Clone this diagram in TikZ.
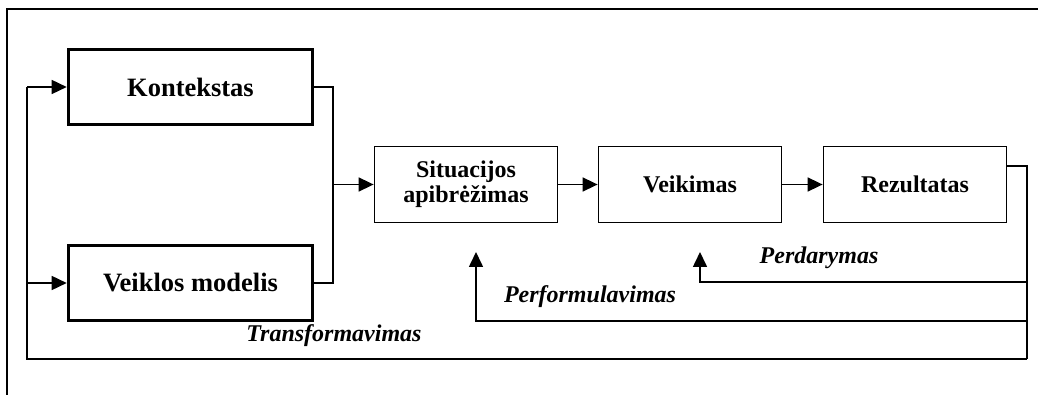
\documentclass[tikz,border=0pt]{standalone}
\usepackage{fontspec}
\setmainfont{Liberation Serif}
\usetikzlibrary{arrows.meta}
\begin{document}
\begin{tikzpicture}[x=1pt,y=-1pt,
  bigbox/.style={draw, line width=3.6pt, minimum width=244pt, minimum height=75pt,
    font=\fontsize{26.5}{29}\selectfont\bfseries},
  smallbox/.style={draw, line width=1.8pt, minimum width=183pt, minimum height=76pt,
    align=center, font=\fontsize{24}{27}\selectfont\bfseries},
  link/.style={line width=1.6pt},
  flow/.style={link, -{Triangle[length=15pt,width=14pt]}},
  lbl/.style={font=\fontsize{24}{27}\selectfont\bfseries\itshape}]
\useasboundingbox (0,0) rectangle (1038,395);

% frame
\draw[line width=2pt] (7,395) -- (7,9) -- (1038,9);

% boxes
\node[bigbox] (kont) at (190.5,87) {Kontekstas};
\node[bigbox] (veik) at (190.5,283) {Veiklos modelis};
\node[smallbox] (sit) at (466,184.5) {Situacijos\\[-2pt]apibrėžimas};
\node[smallbox] (act) at (690,184.5) {Veikimas};
\node[smallbox] (rez) at (915,184.5) {Rezultatas};

% joining the two inputs
\coordinate (join) at (333,184.5);
\draw[link] (kont.east) -| (join) |- (veik.east);
\draw[flow] (join) -- (sit.west);
\draw[flow] (sit.east) -- (act.west);
\draw[flow] (act.east) -- (rez.west);

% feedback loops
\coordinate (rout) at (1007,166);
\coordinate (rcol) at (1027,166);
\coordinate (fb1) at (1027,282);
\coordinate (fb2) at (1027,321);
\coordinate (fb3) at (1027,359);
\coordinate (lcol) at (27,359);
\coordinate (up1) at (700,252);
\coordinate (up2) at (476,252);

\draw[link] (rout) -- (rcol) -- (fb3);
\draw[flow] (fb1) -| (up1);
\draw[flow] (fb2) -| (up2);
\draw[link] (fb3) -- (lcol) -- (27,87);
\draw[flow] (27,87) -- (kont.west);
\draw[flow] (27,283) -- (veik.west);

% labels
\node[lbl] (l1) at (819,258) {Perdarymas};
\node[lbl] (l2) at (590,297) {Performulavimas};
\node[lbl] (l3) at (334,336) {Transformavimas};
\end{tikzpicture}
\end{document}
